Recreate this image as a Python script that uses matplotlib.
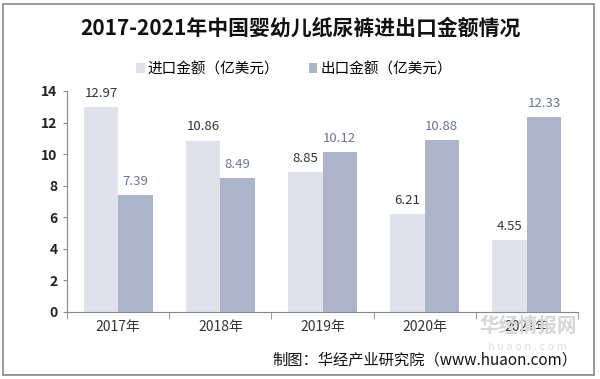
import numpy as np
import matplotlib.pyplot as plt
from matplotlib.patches import Rectangle

plt.rcParams['font.family'] = ['Noto Sans CJK SC', 'DejaVu Sans']

years = ['2017年', '2018年', '2019年', '2020年', '2021年']
imports = [12.97, 10.86, 8.85, 6.21, 4.55]
exports = [7.39, 8.49, 10.12, 10.88, 12.33]

c_imp = '#dfe2eb'
c_exp = '#adb3c9'

fig = plt.figure(figsize=(6.0, 3.79), dpi=100)
ax = fig.add_axes([0.112, 0.177, 0.851, 0.583])

x = np.arange(len(years))
w = 0.337
b1 = ax.bar(x - w / 2, imports, w, color=c_imp, label='进口金额（亿美元）')
b2 = ax.bar(x + w / 2, exports, w, color=c_exp, label='出口金额（亿美元）')

for xi, v in zip(x, imports):
    ax.text(xi - w / 2, v + 0.45, f'{v:.2f}', ha='center', va='bottom',
            fontsize=9.5, color='#333333')
for xi, v in zip(x, exports):
    ax.text(xi + w / 2, v + 0.45, f'{v:.2f}', ha='center', va='bottom',
            fontsize=9.5, color='#6a7598')

ax.set_xlim(-0.5, 4.5)
ax.set_ylim(0, 14)
ax.set_yticks(range(0, 15, 2))
ax.set_xticks(x)
ax.set_xticklabels(years, fontsize=10, color='#333333')
ax.set_xticks(np.arange(-0.5, 5, 1), minor=True)
ax.tick_params(axis='x', which='major', length=0, pad=6)
ax.tick_params(axis='x', which='minor', length=5, color='#888888', direction='out')
ax.tick_params(axis='y', length=3, color='#888888', labelsize=10, pad=4)
for lab in ax.get_yticklabels():
    lab.set_fontweight('bold')
    lab.set_color('#222222')

for s in ['top', 'right']:
    ax.spines[s].set_visible(False)
ax.spines['left'].set_color('#888888')
ax.spines['bottom'].set_color('#888888')

fig.text(0.5, 0.925, '2017-2021年中国婴幼儿纸尿裤进出口金额情况', ha='center', va='center',
         fontsize=15, fontweight='bold', color='#111111')
fig.legend(handles=[b1, b2], loc='center', bbox_to_anchor=(0.49, 0.818), ncol=2,
           frameon=False, fontsize=10.5, handlelength=0.6, handleheight=0.6,
           handletextpad=0.2, columnspacing=2.0)

# watermark
fig.text(0.88, 0.14, '华经情报网', ha='center', va='center', fontsize=14,
         color='#d6d6d6', fontweight='bold')
fig.text(0.88, 0.085, 'h u a o n . c o m', ha='center', va='center', fontsize=8,
         color='#dedede')

fig.text(0.963, 0.05, '制图：华经产业研究院（www.huaon.com）', ha='right', va='center',
         fontsize=11, color='#111111')

fig.patches.append(Rectangle((0.005, 0.01), 0.985, 0.98, transform=fig.transFigure,
                             fill=False, edgecolor='#888888', linewidth=1.2))

fig.savefig('out.png', dpi=100)
